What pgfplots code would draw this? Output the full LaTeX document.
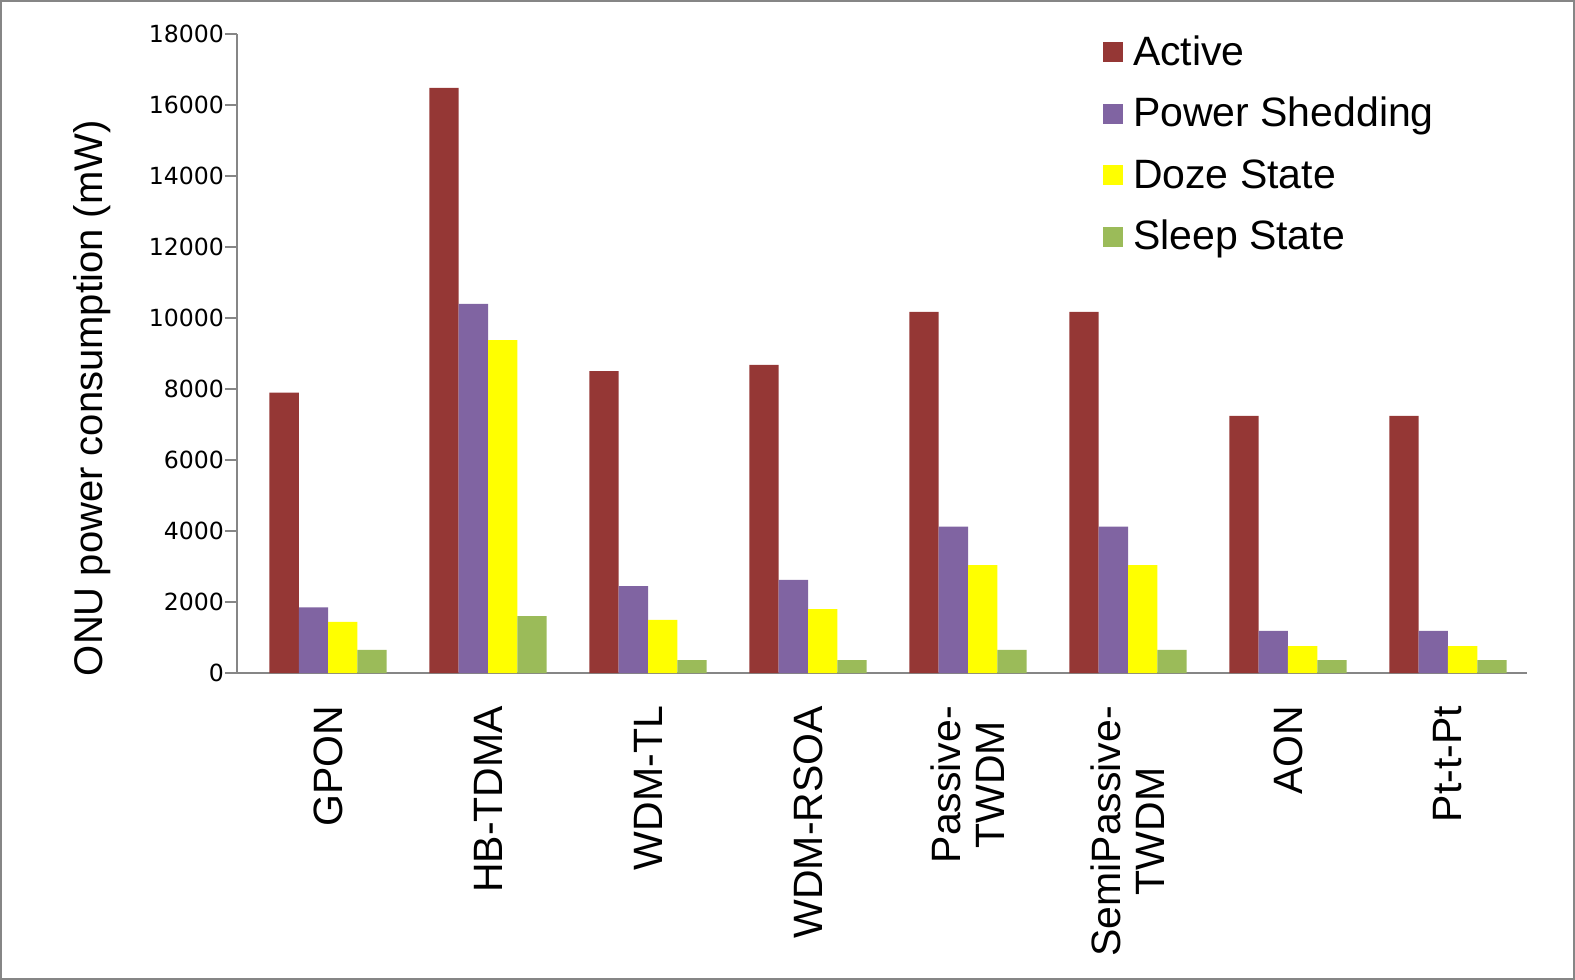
\documentclass[border=0pt]{standalone}
\usepackage{fontspec}
\setmainfont{Liberation Sans}
\newfontfamily\tickfont{DejaVu Sans}
\usepackage{pgfplots}
\pgfplotsset{compat=1.18}
\definecolor{cActive}{HTML}{953735}
\definecolor{cShed}{HTML}{8064A2}
\definecolor{cDoze}{HTML}{FFFF00}
\definecolor{cSleep}{HTML}{9BBB59}
\definecolor{axisgray}{HTML}{868686}

\begin{document}
\begin{tikzpicture}
\useasboundingbox (0,0) rectangle (787.5pt,490pt);
\begin{axis}[
    at={(118.5pt,153.5pt)}, anchor=south west,
    scale only axis, width=645pt, height=319.5pt,
    ybar=0pt, bar width=0.183,
    xmin=-0.569, xmax=7.494,
    ymin=0, ymax=18000,
    ytick={0,2000,...,18000},
    xtick={0,...,7},
    xticklabels={GPON, HB-TDMA, WDM-TL, WDM-RSOA, Passive-\\TWDM, SemiPassive-\\TWDM, AON, Pt-t-Pt},
    axis x line*=bottom, axis y line*=left,
    axis line style={axisgray, line width=1pt, -},
    x tick style={draw=none},
    y tick style={axisgray, line width=1pt},
    tick align=outside, major tick length=6pt,
    scaled y ticks=false,
    y tick label style={font=\tickfont\fontsize{11.8}{14}\selectfont, xshift=3pt,
        /pgf/number format/.cd, 1000 sep={}, assume math mode=true, /tikz/.cd},
    x tick label style={font=\fontsize{20.5}{22}\selectfont, rotate=90, anchor=east, align=center},
    xticklabel shift=7pt,
    ylabel={ONU power consumption (mW)},
    ylabel style={font=\fontsize{20}{23}\selectfont, at={(axis description cs:-0.112,0.43)}, anchor=center},
    legend style={at={(axis description cs:0.671,0.997)}, anchor=north west,
        draw=none, fill=none, inner sep=0pt, row sep=11.75pt,
        font=\fontsize{20.5}{23}\selectfont,
        nodes={inner sep=0pt, text height=14.5pt, text depth=4.5pt},
        /tikz/every odd column/.append style={column sep=5pt}},
    legend cell align=left,
    legend image code/.code={\fill (0pt,-3.4pt) rectangle (10pt,6.6pt);},
]
\addplot[fill=cActive, draw=none] coordinates {
    (0,7900) (1,16480) (2,8500) (3,8680) (4,10170) (5,10170) (6,7240) (7,7240)};
\addlegendentry{Active}
\addplot[fill=cShed, draw=none] coordinates {
    (0,1850) (1,10400) (2,2450) (3,2620) (4,4120) (5,4120) (6,1190) (7,1190)};
\addlegendentry{Power Shedding}
\addplot[fill=cDoze, draw=none] coordinates {
    (0,1440) (1,9380) (2,1500) (3,1800) (4,3040) (5,3040) (6,760) (7,760)};
\addlegendentry{Doze State}
\addplot[fill=cSleep, draw=none] coordinates {
    (0,650) (1,1600) (2,360) (3,360) (4,650) (5,650) (6,360) (7,360)};
\addlegendentry{Sleep State}
\end{axis}
\draw[axisgray, line width=1.2pt] (0.6pt,0.6pt) rectangle (786.9pt,489.4pt);
\end{tikzpicture}
\end{document}
